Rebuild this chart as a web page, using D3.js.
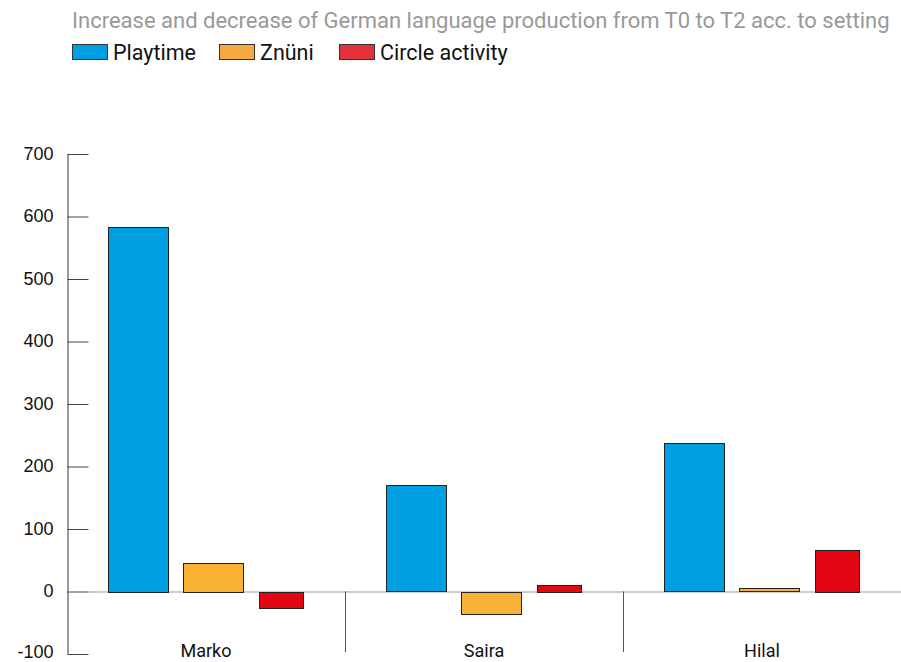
<!DOCTYPE html>
<html>
<head>
<meta charset="utf-8">
<script src="https://cdn.jsdelivr.net/npm/d3@7"></script>
<style>
  body { margin: 0; background: #fff; }
  svg { display: block; }
</style>
</head>
<body>
<svg id="chart"></svg>
<script>
const [w, h] = [901, 662];

const title = 'Increase and decrease of German language production from T0 to T2 acc. to setting';
const children = ['Marko', 'Saira', 'Hilal'];
const series = ['Playtime', 'Znüni', 'Circle activity'];
const playtime = [584, 170, 237];
const znuni = [46, -35, 5];
const circle = [-26, 11, 67];
const yTicks = [-100, 0, 100, 200, 300, 400, 500, 600, 700];

const barColors = ['#009fe3', '#f9b233', '#e30613'];
const legendColors = ['#009fe3', '#f5a940', '#e6323d'];
const barWidthFactor = [1, 1, 0.73];

const values = [playtime, znuni, circle];
const rows = [];
children.forEach((c, i) => {
    series.forEach((s, j) => rows.push({child: c, series: s, idx: j, value: values[j][i]}));
});

const svg = d3.select('#chart').attr('width', w).attr('height', h);

const yScale = d3.scaleLinear().domain([-100, 700]).range([654, 154]);
const x0 = d3.scaleBand().domain(children).range([67, 901]).padding(0);
const x1 = d3.scaleBand().domain(series).range([41, 252]).paddingInner(0.2);

// title
svg.append('text')
    .attr('x', 72)
    .attr('y', 28)
    .text(title)
    .style('font-family', 'Roboto, sans-serif')
    .style('font-size', '22px')
    .attr('fill', '#999');

// legend
const legendX = [72, 219, 339];
const legend = svg.append('g');
series.forEach((s, j) => {
    legend.append('rect')
        .attr('x', legendX[j] + 0.5)
        .attr('y', 44.5)
        .attr('width', 35)
        .attr('height', 15)
        .attr('fill', legendColors[j])
        .attr('stroke', '#333');
    legend.append('text')
        .attr('x', legendX[j] + 41)
        .attr('y', 60)
        .text(s)
        .style('font-family', 'Roboto, sans-serif')
        .style('font-size', '21.5px')
        .attr('fill', '#111');
});

// y axis
const yAxis = d3.axisRight(yScale).tickValues(yTicks).tickSize(21).tickFormat(d => String(d));
const gy = svg.append('g')
    .attr('transform', 'translate(67.5, 0)')
    .call(yAxis);
gy.select('.domain').attr('stroke', '#333').attr('d', `M0.5,${yScale(700)}V${yScale(-100)}`);
gy.selectAll('.tick line').attr('stroke', '#444');
gy.selectAll('.tick text')
    .attr('x', -14)
    .attr('dy', d => d < 0 ? '0.2em' : '0.3em')
    .attr('text-anchor', 'end')
    .attr('fill', '#111')
    .style('font-family', '"Liberation Sans", Arial, sans-serif')
    .style('font-size', '18px');

// zero line
svg.append('line')
    .attr('x1', 88).attr('x2', 901)
    .attr('y1', yScale(0) + 0.5).attr('y2', yScale(0) + 0.5)
    .attr('stroke', '#999');

// category separators
svg.selectAll('.sep')
    .data(children.slice(1))
    .enter()
    .append('line')
        .attr('class', 'sep')
        .attr('x1', d => Math.round(x0(d)) + 0.5)
        .attr('x2', d => Math.round(x0(d)) + 0.5)
        .attr('y1', yScale(0))
        .attr('y2', 652)
        .attr('stroke', '#555');

// bars
svg.selectAll('.bar')
    .data(rows)
    .enter()
    .append('rect')
        .attr('class', 'bar')
        .attr('x', d => Math.round(x0(d.child) + x1(d.series)) + 0.5)
        .attr('y', d => Math.round(yScale(Math.max(0, d.value))) + 0.5)
        .attr('width', d => Math.round(x1.bandwidth() * barWidthFactor[d.idx]))
        .attr('height', d => Math.max(1, Math.round(Math.abs(yScale(d.value) - yScale(0)))))
        .attr('fill', d => barColors[d.idx])
        .attr('stroke', '#222');

// category labels
svg.selectAll('.cat')
    .data(children)
    .enter()
    .append('text')
        .attr('class', 'cat')
        .attr('x', d => x0(d) + x0.bandwidth() / 2)
        .attr('y', 657)
        .text(d => d)
        .style('text-anchor', 'middle')
        .style('font-family', 'Roboto, sans-serif')
        .style('font-size', '18px')
        .attr('fill', '#111');
</script>
</body>
</html>
